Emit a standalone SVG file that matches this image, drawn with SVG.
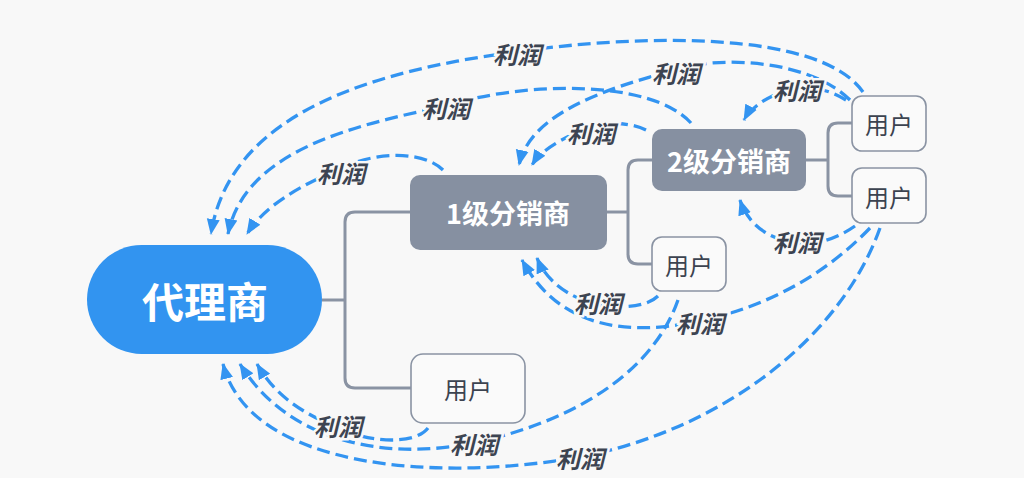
<svg xmlns="http://www.w3.org/2000/svg" width="1024" height="478" viewBox="0 0 1024 478">
<defs>
<marker id="ah" markerUnits="userSpaceOnUse" markerWidth="16" markerHeight="14" viewBox="0 0 16 14" refX="15" refY="7" orient="auto">
<path d="M0,0.5 L16,7 L0,13.5 z" fill="#3394f1"/>
</marker>
<style>
.bg{fill:#f8f8f8}
.tree{fill:none;stroke:#8a93a3;stroke-width:3;stroke-linejoin:round}
.flow{fill:none;stroke:#3394f1;stroke-width:3.3;stroke-dasharray:13 6;marker-end:url(#ah)}
.lbl{font-family:"Noto Sans CJK SC","Noto Sans",sans-serif;font-size:24px;font-weight:bold;font-style:italic;fill:#3d4451;stroke:#f8f8f8;stroke-width:5;paint-order:stroke;text-anchor:middle;dominant-baseline:central}
.dist{fill:#8690a1}
.distt{font-family:"Noto Sans CJK SC","Noto Sans",sans-serif;font-weight:bold;fill:#ffffff;text-anchor:middle;dominant-baseline:central}
.user{fill:#fafafa;stroke:#8a93a3;stroke-width:1.6}
.usert{font-family:"Noto Sans CJK SC","Noto Sans",sans-serif;font-size:24px;fill:#3c4350;text-anchor:middle;dominant-baseline:central}
</style>
</defs>
<rect class="bg" x="0" y="0" width="1024" height="478"/>

<g id="connectors">
<path class="tree" d="M322,300 H345 M410,212 H355 Q345,212 345,222 V378 Q345,388 355,388 H411"/>
<path class="tree" d="M607,212 H628 M652,160 H638 Q628,160 628,170 V254 Q628,264 638,264 H652"/>
<path class="tree" d="M806,160 H828 M852,123 H838 Q828,123 828,133 V186 Q828,196 838,196 H852"/>
</g>

<g id="profit-flows">
<path class="flow" d="M443,170 C425,152 380,150 341,168 C300,186 265,205 247,234"/>
<path class="flow" d="M691,123 C650,78 520,82 446,106 C355,125 245,150 228,234"/>
<path class="flow" d="M863,92 C820,30 640,34 515,52 C380,70 230,110 211,234"/>
<path class="flow" d="M850,100 C810,60 720,55 675,70 C600,90 530,115 519,165"/>
<path class="flow" d="M646,130 C625,120 595,122 575,133 C555,143 540,152 532,165"/>
<path class="flow" d="M846,100 C830,90 812,86 796,88 C775,92 752,105 744,120"/>
<path class="flow" d="M855,226 C835,240 815,245 797,243 C770,240 748,225 740,200"/>
<path class="flow" d="M658,296 C648,306 625,309 600,305 C575,300 548,285 537,258"/>
<path class="flow" d="M870,228 C820,280 760,308 700,321 C630,336 560,330 522,260"/>
<path class="flow" d="M678,300 C650,380 560,425 473,443 C390,460 290,445 240,364"/>
<path class="flow" d="M428,428 C415,445 370,443 338,428 C300,412 275,395 257,364"/>
<path class="flow" d="M880,228 C840,340 720,430 580,457 C440,482 250,470 223,364"/>
<text class="lbl" x="341" y="172">利润</text>
<text class="lbl" x="446" y="107">利润</text>
<text class="lbl" x="517" y="53">利润</text>
<text class="lbl" x="676" y="72">利润</text>
<text class="lbl" x="591" y="132">利润</text>
<text class="lbl" x="797" y="89">利润</text>
<text class="lbl" x="797" y="241">利润</text>
<text class="lbl" x="598" y="302">利润</text>
<text class="lbl" x="700" y="322">利润</text>
<text class="lbl" x="338" y="425">利润</text>
<text class="lbl" x="474" y="443">利润</text>
<text class="lbl" x="580" y="457">利润</text>
</g>

<g id="agent">
<rect x="87" y="245" width="235" height="109" rx="54.5" fill="#3294f0"/>
<text x="205" y="299" font-family="Noto Sans CJK SC, Noto Sans, sans-serif" font-size="42" font-weight="bold" fill="#ffffff" text-anchor="middle" dominant-baseline="central">代理商</text>
</g>

<g id="dist1">
<rect class="dist" x="410" y="175" width="197" height="75" rx="10"/>
<text class="distt" x="508" y="212" font-size="27">1级分销商</text>
</g>

<g id="dist2">
<rect class="dist" x="652" y="129" width="154" height="62" rx="10"/>
<text class="distt" x="729" y="160" font-size="27">2级分销商</text>
</g>

<g id="user-a">
<rect class="user" x="852" y="96" width="74" height="55" rx="10"/>
<text class="usert" x="889" y="123">用户</text>
</g>

<g id="user-b">
<rect class="user" x="852" y="168" width="74" height="55" rx="10"/>
<text class="usert" x="889" y="196">用户</text>
</g>

<g id="user-c">
<rect class="user" x="652" y="237" width="74" height="54" rx="10"/>
<text class="usert" x="689" y="264">用户</text>
</g>

<g id="user-d">
<rect class="user" x="411" y="354" width="114" height="69" rx="12"/>
<text class="usert" x="468" y="388">用户</text>
</g>
</svg>
